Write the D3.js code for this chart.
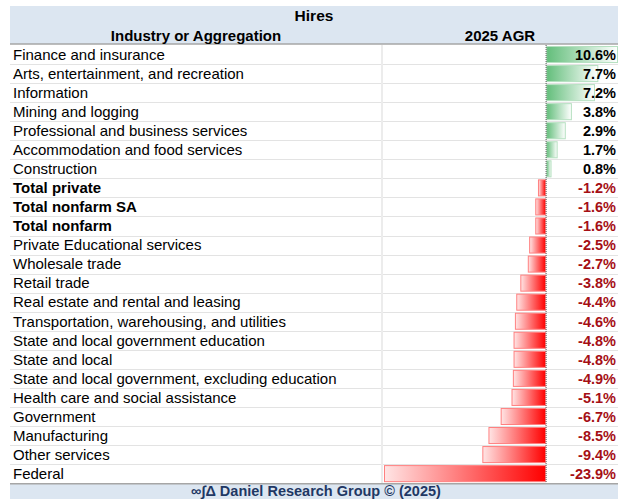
<!DOCTYPE html>
<html>
<head>
<meta charset="utf-8">
<script src="https://cdn.jsdelivr.net/npm/d3@7"></script>
<style>
  body { margin: 0; background: #fff; }
  svg { display: block; font-family: "Liberation Sans", Arial, sans-serif; }
</style>
</head>
<body>
<div id="chart"></div>
<script>
// rows of the table, top to bottom
const industries = [
  "Finance and insurance", "Arts, entertainment, and recreation", "Information",
  "Mining and logging", "Professional and business services",
  "Accommodation and food services", "Construction", "Total private",
  "Total nonfarm SA", "Total nonfarm", "Private Educational services",
  "Wholesale trade", "Retail trade", "Real estate and rental and leasing",
  "Transportation, warehousing, and utilities",
  "State and local government education", "State and local",
  "State and local government, excluding education",
  "Health care and social assistance", "Government", "Manufacturing",
  "Other services", "Federal"
];
const agr2025 = [10.6, 7.7, 7.2, 3.8, 2.9, 1.7, 0.8, -1.2, -1.6, -1.6, -2.5, -2.7,
  -3.8, -4.4, -4.6, -4.8, -4.8, -4.9, -5.1, -6.7, -8.5, -9.4, -23.9];
const boldRows = ["Total private", "Total nonfarm SA", "Total nonfarm"];
const tableTitle = "Hires";
const colHeaders = ["Industry or Aggregation", "2025 AGR"];
const footer = "\u221e\u222b\u0394 Daniel Research Group \u00a9 (2025)";

const W = 618, H = 499;
const xLeft = 10, xRight = 618, rowTop = 45, rowH = 19.05;
const colSplit = 382;

const data = industries.map((name, i) => ({name, value: agr2025[i]}));

const svg = d3.select("#chart").append("svg")
  .attr("width", W).attr("height", H);

const defs = svg.append("defs");
const gGreen = defs.append("linearGradient").attr("id", "gGreen");
gGreen.append("stop").attr("offset", "0%").attr("stop-color", "#63be7b");
gGreen.append("stop").attr("offset", "100%").attr("stop-color", "#ffffff");
const gRed = defs.append("linearGradient").attr("id", "gRed");
gRed.append("stop").attr("offset", "0%").attr("stop-color", "#ffe5e5");
gRed.append("stop").attr("offset", "100%").attr("stop-color", "#ff0000");

// header band
svg.append("rect").attr("x", xLeft).attr("y", 6).attr("width", xRight - xLeft).attr("height", 38)
  .attr("fill", "#dce6f1");
svg.append("line").attr("x1", xLeft).attr("x2", xRight).attr("y1", 44).attr("y2", 44)
  .attr("stroke", "#a6a6a6").attr("stroke-width", 1.5);
svg.append("text").attr("x", (xLeft + xRight) / 2).attr("y", 21).attr("text-anchor", "middle")
  .attr("font-size", 15.5).attr("font-weight", "bold").attr("fill", "#000").text(tableTitle);
svg.append("text").attr("x", (xLeft + colSplit) / 2).attr("y", 41).attr("text-anchor", "middle")
  .attr("font-size", 15).attr("font-weight", "bold").attr("fill", "#000").text(colHeaders[0]);
svg.append("text").attr("x", (colSplit + xRight) / 2).attr("y", 41).attr("text-anchor", "middle")
  .attr("font-size", 15).attr("font-weight", "bold").attr("fill", "#000").text(colHeaders[1]);

const y = d3.scaleBand().domain(industries)
  .range([rowTop, rowTop + rowH * industries.length]).padding(0);
const x = d3.scaleLinear().domain([d3.min(agr2025), d3.max(agr2025)]).range([384, 618]);

// grid lines
svg.append("g").selectAll("line").data(industries.slice(1)).join("line")
  .attr("x1", xLeft).attr("x2", xRight)
  .attr("y1", d => Math.round(y(d)) + 0.5).attr("y2", d => Math.round(y(d)) + 0.5)
  .attr("stroke", "#e3e3e3");
svg.append("line").attr("x1", colSplit).attr("x2", colSplit)
  .attr("y1", rowTop).attr("y2", y.range()[1])
  .attr("stroke", "#ececec").attr("stroke-width", 2);

// data bars
svg.append("g").selectAll("rect").data(data).join("rect")
  .attr("x", d => x(Math.min(0, d.value)) + 0.5)
  .attr("y", d => y(d.name) + 1.5)
  .attr("width", d => Math.abs(x(d.value) - x(0)) - 1)
  .attr("height", y.bandwidth() - 3)
  .attr("fill", d => d.value >= 0 ? "url(#gGreen)" : "url(#gRed)")
  .attr("stroke", d => d.value >= 0 ? "#b5e0c0" : "#ff8080")
  .attr("stroke-width", 1);

// zero axis
svg.append("line").attr("x1", x(0)).attr("x2", x(0))
  .attr("y1", rowTop).attr("y2", y.range()[1])
  .attr("stroke", "#555").attr("stroke-dasharray", "1,1");

// labels
svg.append("g").selectAll("text").data(data).join("text")
  .attr("x", 13).attr("y", d => y(d.name) + 14.8)
  .attr("font-size", 15)
  .attr("font-weight", d => boldRows.includes(d.name) ? "bold" : "normal")
  .attr("fill", "#000")
  .text(d => d.name);

// values
svg.append("g").selectAll("text").data(data).join("text")
  .attr("x", 616).attr("y", d => y(d.name) + 14.8)
  .attr("text-anchor", "end")
  .attr("font-size", 14.5).attr("font-weight", "bold")
  .attr("fill", d => d.value < 0 ? "#a50f15" : "#000")
  .text(d => d.value.toFixed(1) + "%");

// footer
const fy = y.range()[1];
svg.append("rect").attr("x", xLeft).attr("y", fy).attr("width", xRight - xLeft).attr("height", H - fy)
  .attr("fill", "#dce6f1");
svg.append("line").attr("x1", xLeft).attr("x2", xRight).attr("y1", fy + 0.5).attr("y2", fy + 0.5)
  .attr("stroke", "#a6a6a6").attr("stroke-width", 1.5);
svg.append("text").attr("x", 316).attr("y", fy + 12.5).attr("text-anchor", "middle")
  .attr("font-size", 14.5).attr("font-weight", "bold").attr("fill", "#1f3864").text(footer);
</script>
</body>
</html>
